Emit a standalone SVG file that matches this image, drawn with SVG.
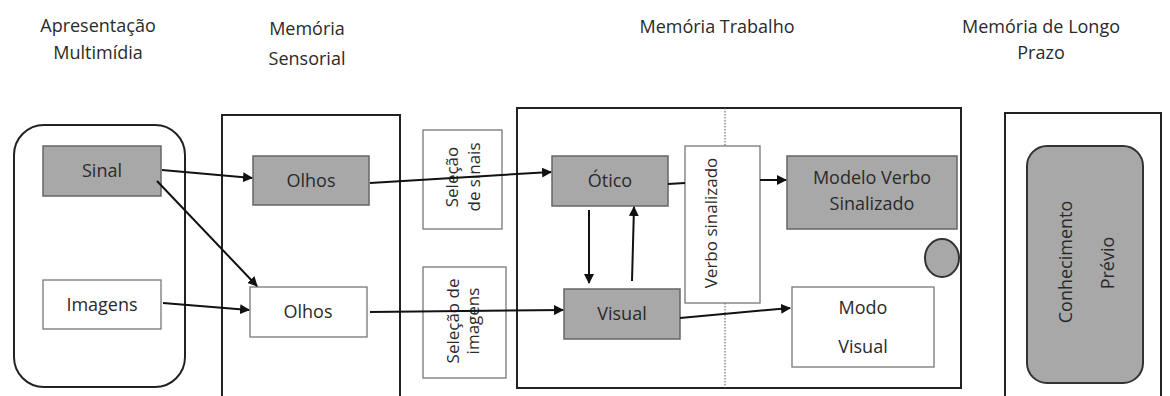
<svg xmlns="http://www.w3.org/2000/svg" width="1170" height="396" viewBox="0 0 1170 396">
  <style>
    text { font-family: "Open Sans", "Liberation Sans", sans-serif; fill: #2a2a2a; }
    .title { font-size: 18px; text-anchor: middle; }
    .lbl { font-size: 18px; text-anchor: middle; }
    .vlbl { font-size: 17px; text-anchor: middle; }
    .frame { fill: #fff; stroke: #222; stroke-width: 2; }
    .gray { fill: #a8a8a8; stroke: #666; stroke-width: 1.5; }
    .white { fill: #fff; stroke: #777; stroke-width: 1.3; }
    .conn { stroke: #111; stroke-width: 2; fill: none; }
    .arrow { marker-end: url(#ah); }
  </style>
  <defs>
    <marker id="ah" viewBox="0 0 10 10" refX="9" refY="5" markerWidth="5" markerHeight="5" orient="auto" markerUnits="strokeWidth">
      <path d="M0,0 L10,5 L0,10 z" fill="#111"/>
    </marker>
  </defs>

  <rect width="1170" height="396" fill="#fff"/>

  <!-- column headings -->
  <g id="headings">
    <text class="title" x="98" y="32">Apresentação</text>
    <text class="title" x="98" y="59">Multimídia</text>
    <text class="title" x="307" y="35">Memória</text>
    <text class="title" x="307" y="65">Sensorial</text>
    <text class="title" x="717" y="33">Memória Trabalho</text>
    <text class="title" x="1041" y="33">Memória de Longo</text>
    <text class="title" x="1041" y="59">Prazo</text>
  </g>

  <!-- containers -->
  <g id="multimedia">
    <rect class="frame" x="14" y="125" width="171" height="262" rx="30"/>
  </g>
  <g id="sensorial">
    <rect class="frame" x="222" y="115" width="178" height="290"/>
  </g>
  <g id="trabalho">
    <rect class="frame" x="517" y="108" width="444" height="280"/>
    <line x1="725" y1="108" x2="725" y2="388" stroke="#555" stroke-width="1" stroke-dasharray="1.5,1.5"/>
  </g>
  <g id="longo-prazo">
    <rect class="frame" x="1005" y="113" width="156" height="290"/>
  </g>

  <!-- nodes -->
  <g id="sinal">
    <rect class="gray" x="43" y="146" width="118" height="50"/>
    <text class="lbl" x="102" y="177">Sinal</text>
  </g>
  <g id="imagens">
    <rect class="white" x="43" y="280" width="118" height="49"/>
    <text class="lbl" x="102" y="311">Imagens</text>
  </g>
  <g id="olhos-sinal">
    <rect class="gray" x="253" y="156" width="116" height="49"/>
    <text class="lbl" x="311" y="187">Olhos</text>
  </g>
  <g id="olhos-imagem">
    <rect class="white" x="250" y="287" width="117" height="50"/>
    <text class="lbl" x="308" y="318">Olhos</text>
  </g>
  <g id="selecao-sinais">
    <rect class="white" x="423" y="130" width="79" height="99"/>
    <text class="vlbl" transform="translate(458,177) rotate(-90)">Seleção</text>
    <text class="vlbl" transform="translate(480,177) rotate(-90)">de sinais</text>
  </g>
  <g id="selecao-imagens">
    <rect class="white" x="423" y="267" width="83" height="111"/>
    <text class="vlbl" transform="translate(459,321) rotate(-90)">Seleção de</text>
    <text class="vlbl" transform="translate(479,321) rotate(-90)">imagens</text>
  </g>
  <g id="otico">
    <rect class="gray" x="552" y="156" width="116" height="50"/>
    <text class="lbl" x="610" y="187">Ótico</text>
  </g>
  <g id="visual">
    <rect class="gray" x="564" y="289" width="116" height="50"/>
    <text class="lbl" x="622" y="320">Visual</text>
  </g>
  <g id="verbo-sinalizado">
    <rect class="white" x="685" y="146" width="75" height="157"/>
    <text class="vlbl" font-size="15.5" transform="translate(717,223) rotate(-90)">Verbo sinalizado</text>
  </g>
  <g id="modelo-verbo">
    <rect class="gray" x="787" y="156" width="170" height="73"/>
    <text class="lbl" x="872" y="184">Modelo Verbo</text>
    <text class="lbl" x="872" y="210">Sinalizado</text>
  </g>
  <g id="modo-visual">
    <rect class="white" x="792" y="287" width="142" height="80"/>
    <text class="lbl" x="863" y="314">Modo</text>
    <text class="lbl" x="863" y="353" font-size="16">Visual</text>
  </g>
  <g id="circulo">
    <ellipse cx="942" cy="258" rx="17" ry="19" fill="#a8a8a8" stroke="#333" stroke-width="2"/>
  </g>
  <g id="conhecimento">
    <rect x="1027" y="146" width="116" height="237" rx="20" fill="#a8a8a8" stroke="#333" stroke-width="2"/>
    <text class="lbl" font-size="19" transform="translate(1072,262) rotate(-90)">Conhecimento</text>
    <text class="lbl" font-size="19" transform="translate(1114,263) rotate(-90)">Prévio</text>
  </g>

  <!-- connectors -->
  <g id="connectors">
    <line class="conn arrow" x1="162" y1="170" x2="252" y2="178"/>
    <line class="conn arrow" x1="157" y1="181" x2="257" y2="286"/>
    <line class="conn arrow" x1="163" y1="303" x2="249" y2="310"/>
    <line class="conn arrow" x1="370" y1="183" x2="551" y2="172"/>
    <line class="conn arrow" x1="370" y1="312" x2="563" y2="310"/>
    <line class="conn arrow" x1="589" y1="210" x2="589" y2="283"/>
    <line class="conn arrow" x1="632" y1="281" x2="634" y2="207"/>
    <line class="conn" x1="668" y1="184" x2="685" y2="183"/>
    <line class="conn arrow" x1="760" y1="180" x2="786" y2="180"/>
    <line class="conn arrow" x1="680" y1="318" x2="790" y2="308"/>
  </g>
</svg>
